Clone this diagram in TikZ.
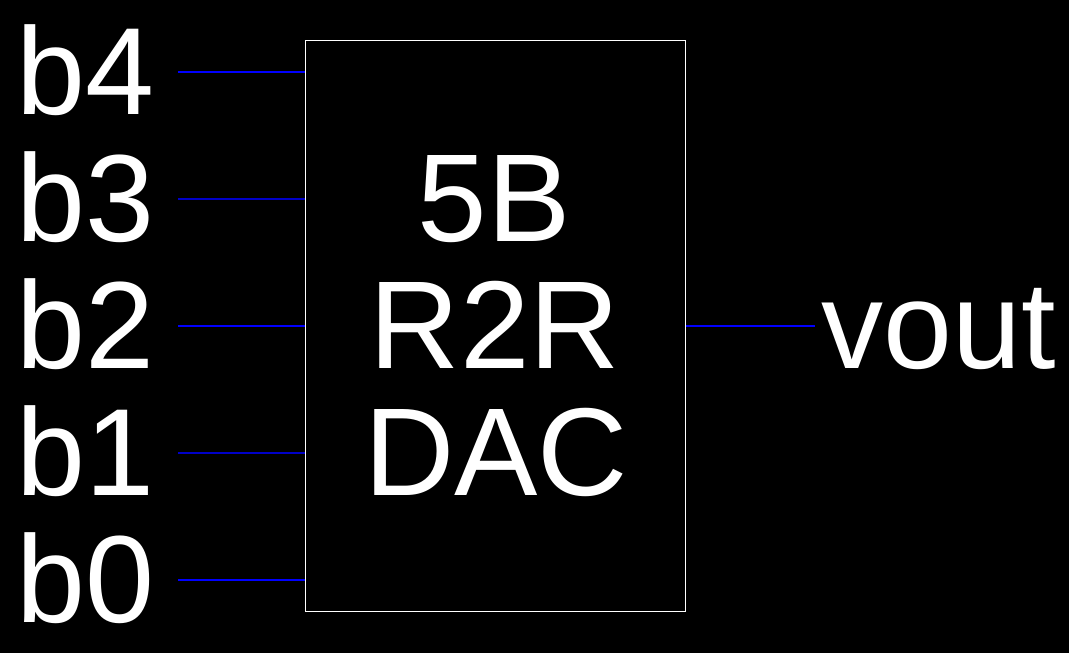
\documentclass[tikz,border=0pt]{standalone}
\usepackage{fontspec}
\setmainfont{Liberation Sans}
\definecolor{wireblue}{RGB}{0,0,255}
\definecolor{wiredark}{RGB}{0,0,200}
\begin{document}
\begin{tikzpicture}[x=1pt,y=1pt,
  lbl/.style={text=white,inner sep=0pt,anchor=base west,font=\fontsize{124}{124}\selectfont},
  dactxt/.style={text=white,inner sep=0pt,anchor=base,font=\fontsize{125}{125}\selectfont},
  wire/.style={line width=2pt,wireblue},
  wiredim/.style={line width=2pt,wiredark}]
\fill[black] (0,0) rectangle (1069,653);
\useasboundingbox (0,0) rectangle (1069,653);
\node[draw=white,line width=1pt,minimum width=380pt,minimum height=571pt,inner sep=0pt,anchor=north west] (dac) at (305,613) {};
\node[dactxt] (t1) at (494,411) {5B};
\node[dactxt] (t2) at (495,284) {R2R};
\node[dactxt] (t3) at (496,157) {DAC};
\node[lbl] (b4) at (16,538) {b4};
\node[lbl] (b3) at (16,411) {b3};
\node[lbl] (b2) at (16,284) {b2};
\node[lbl] (b1) at (16,157) {b1};
\node[lbl] (b0) at (16,30) {b0};
\node[lbl] (vout) at (821,284) {vout};
\coordinate (s4) at (178,581);
\coordinate (s3) at (178,454);
\coordinate (s2) at (178,327);
\coordinate (s1) at (178,200);
\coordinate (s0) at (178,73);
\coordinate (so) at (815,327);
\draw[wire] (s4) -- (s4 -| dac.west);
\draw[wiredim] (s3) -- (s3 -| dac.west);
\draw[wire] (s2) -- (s2 -| dac.west);
\draw[wiredim] (s1) -- (s1 -| dac.west);
\draw[wire] (s0) -- (s0 -| dac.west);
\draw[wire] (so -| dac.east) -- (so);
\end{tikzpicture}
\end{document}
